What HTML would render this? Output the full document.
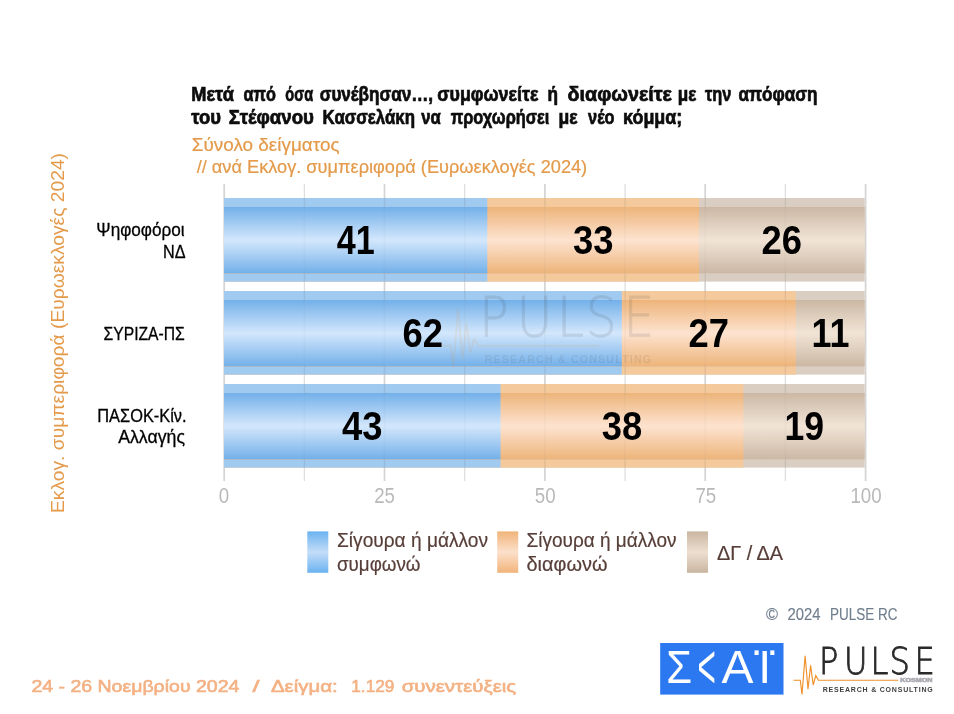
<!DOCTYPE html>
<html lang="el">
<head>
<meta charset="utf-8">
<title>Pulse RC</title>
<style>
html,body{margin:0;padding:0;background:#fff;}
body{width:954px;height:714px;overflow:hidden;}
svg{display:block;}
text{font-family:"Liberation Sans",sans-serif;}
.b{font-weight:bold;}
.pl{font-family:"DejaVu Sans Light","DejaVu Sans","Liberation Sans",sans-serif;font-weight:200;}
.or{fill:#e49a4a;stroke:#e49a4a;stroke-width:0.2px;}
.lg{fill:#573e38;stroke:#573e38;stroke-width:0.2px;}
.ax{fill:#b9b9b9;}
.num{font-weight:bold;font-size:41px;fill:#000;}
.yl{font-size:18.5px;fill:#000;stroke:#000;stroke-width:0.3px;text-anchor:end;}
</style>
</head>
<body>
<svg width="954" height="714" viewBox="0 0 954 714">
<defs>
<linearGradient id="gb" x1="0" y1="0" x2="0" y2="1">
<stop offset="0" stop-color="#73b0e9"/><stop offset="0.5" stop-color="#d3e7fc"/><stop offset="1" stop-color="#73b0e9"/>
</linearGradient>
<linearGradient id="go" x1="0" y1="0" x2="0" y2="1">
<stop offset="0" stop-color="#edb47a"/><stop offset="0.5" stop-color="#fde3d0"/><stop offset="1" stop-color="#edb47a"/>
</linearGradient>
<linearGradient id="gg" x1="0" y1="0" x2="0" y2="1">
<stop offset="0" stop-color="#cbb8a4"/><stop offset="0.5" stop-color="#f1e4d6"/><stop offset="1" stop-color="#cbb8a4"/>
</linearGradient>
<linearGradient id="lb" x1="0" y1="0" x2="0" y2="1">
<stop offset="0" stop-color="#6bb2f1"/><stop offset="0.5" stop-color="#c4ddf8"/><stop offset="1" stop-color="#6bb2f1"/>
</linearGradient>
<linearGradient id="lo" x1="0" y1="0" x2="0" y2="1">
<stop offset="0" stop-color="#f1b47a"/><stop offset="0.5" stop-color="#fce0cb"/><stop offset="1" stop-color="#f1b47a"/>
</linearGradient>
<linearGradient id="lgr" x1="0" y1="0" x2="0" y2="1">
<stop offset="0" stop-color="#c9b5a0"/><stop offset="0.5" stop-color="#eddfd0"/><stop offset="1" stop-color="#c9b5a0"/>
</linearGradient>
</defs>
<rect x="0" y="0" width="954" height="714" fill="#ffffff"/>

<!-- title -->
<text class="b" y="100.8" font-size="19.9" fill="#0d0d0d" stroke="#0d0d0d" stroke-width="0.7"><tspan x="191.2" textLength="42.7" lengthAdjust="spacingAndGlyphs">Μετά</tspan> <tspan x="243.5" textLength="32.3" lengthAdjust="spacingAndGlyphs">από</tspan> <tspan x="285.3" textLength="27.8" lengthAdjust="spacingAndGlyphs">όσα</tspan> <tspan x="319.7" textLength="113.4" lengthAdjust="spacingAndGlyphs">συνέβησαν…,</tspan> <tspan x="437.3" textLength="101.1" lengthAdjust="spacingAndGlyphs">συμφωνείτε</tspan> <tspan x="547.6" textLength="10.5" lengthAdjust="spacingAndGlyphs">ή</tspan> <tspan x="567.6" textLength="104.3" lengthAdjust="spacingAndGlyphs">διαφωνείτε</tspan> <tspan x="677.7" textLength="18.6" lengthAdjust="spacingAndGlyphs">με</tspan> <tspan x="705.1" textLength="26.3" lengthAdjust="spacingAndGlyphs">την</tspan> <tspan x="738.4" textLength="79.1" lengthAdjust="spacingAndGlyphs">απόφαση</tspan></text>
<text class="b" y="124.4" font-size="19.9" fill="#0d0d0d" stroke="#0d0d0d" stroke-width="0.7"><tspan x="191.2" textLength="29.7" lengthAdjust="spacingAndGlyphs">του</tspan> <tspan x="228.8" textLength="85.1" lengthAdjust="spacingAndGlyphs">Στέφανου</tspan> <tspan x="322.6" textLength="92.4" lengthAdjust="spacingAndGlyphs">Κασσελάκη</tspan> <tspan x="421.3" textLength="19.5" lengthAdjust="spacingAndGlyphs">να</tspan> <tspan x="450.7" textLength="98.6" lengthAdjust="spacingAndGlyphs">προχωρήσει</tspan> <tspan x="558.4" textLength="19.1" lengthAdjust="spacingAndGlyphs">με</tspan> <tspan x="588.1" textLength="26.3" lengthAdjust="spacingAndGlyphs">νέο</tspan> <tspan x="623.1" textLength="59.2" lengthAdjust="spacingAndGlyphs">κόμμα;</tspan></text>
<!-- subtitle -->
<text class="or" x="191.8" y="150.7" font-size="18.5" textLength="147.7" lengthAdjust="spacingAndGlyphs">Σύνολο δείγματος</text>
<text class="or" x="196.7" y="172.6" font-size="18.5" textLength="390.5" lengthAdjust="spacingAndGlyphs">// ανά Εκλογ. συμπεριφορά (Ευρωεκλογές 2024)</text>

<!-- y axis title -->
<text class="or" style="stroke-width:0" transform="translate(64.2,513) rotate(-90)" font-size="19.2" textLength="360" lengthAdjust="spacingAndGlyphs">Εκλογ. συμπεριφορά (Ευρωεκλογές 2024)</text>

<!-- gridlines -->
<g stroke="#dedede" stroke-width="1.3">
<line x1="304.4" y1="184" x2="304.4" y2="481"/>
<line x1="464.7" y1="184" x2="464.7" y2="481"/>
<line x1="625.1" y1="184" x2="625.1" y2="481"/>
<line x1="785.4" y1="184" x2="785.4" y2="481"/>
</g>
<g stroke="#d4d4d4" stroke-width="1.7">
<line x1="224.2" y1="184" x2="224.2" y2="481"/>
<line x1="384.5" y1="184" x2="384.5" y2="481"/>
<line x1="544.9" y1="184" x2="544.9" y2="481"/>
<line x1="705.2" y1="184" x2="705.2" y2="481"/>
<line x1="865.6" y1="184" x2="865.6" y2="481"/>
</g>

<!-- bars : outer band then inner gradient, layered right-to-left to avoid seams -->
<rect x="224.0" y="198.0" width="640.7" height="83.6" fill="#d9cec1"/>
<rect x="224.0" y="198.0" width="475.0" height="83.6" fill="#f4c99c"/>
<rect x="224.0" y="198.0" width="263.3" height="83.6" fill="#a1caf0"/>
<rect x="224.0" y="291.0" width="640.7" height="83.6" fill="#d9cec1"/>
<rect x="224.0" y="291.0" width="571.8" height="83.6" fill="#f4c99c"/>
<rect x="224.0" y="291.0" width="397.8" height="83.6" fill="#a1caf0"/>
<rect x="224.0" y="384.0" width="640.7" height="83.6" fill="#d9cec1"/>
<rect x="224.0" y="384.0" width="519.4" height="83.6" fill="#f4c99c"/>
<rect x="224.0" y="384.0" width="276.5" height="83.6" fill="#a1caf0"/>
<g stroke="#000000" stroke-opacity="0.05" stroke-width="1.4">
<line x1="304.4" y1="198" x2="304.4" y2="281.6"/>
<line x1="464.7" y1="198" x2="464.7" y2="281.6"/>
<line x1="625.1" y1="198" x2="625.1" y2="281.6"/>
<line x1="785.4" y1="198" x2="785.4" y2="281.6"/>
<line x1="384.5" y1="198" x2="384.5" y2="281.6"/>
<line x1="544.9" y1="198" x2="544.9" y2="281.6"/>
<line x1="705.2" y1="198" x2="705.2" y2="281.6"/>
<line x1="304.4" y1="291" x2="304.4" y2="374.6"/>
<line x1="464.7" y1="291" x2="464.7" y2="374.6"/>
<line x1="625.1" y1="291" x2="625.1" y2="374.6"/>
<line x1="785.4" y1="291" x2="785.4" y2="374.6"/>
<line x1="384.5" y1="291" x2="384.5" y2="374.6"/>
<line x1="544.9" y1="291" x2="544.9" y2="374.6"/>
<line x1="705.2" y1="291" x2="705.2" y2="374.6"/>
<line x1="304.4" y1="384" x2="304.4" y2="467.6"/>
<line x1="464.7" y1="384" x2="464.7" y2="467.6"/>
<line x1="625.1" y1="384" x2="625.1" y2="467.6"/>
<line x1="785.4" y1="384" x2="785.4" y2="467.6"/>
<line x1="384.5" y1="384" x2="384.5" y2="467.6"/>
<line x1="544.9" y1="384" x2="544.9" y2="467.6"/>
<line x1="705.2" y1="384" x2="705.2" y2="467.6"/>
</g>
<rect x="224.0" y="207.0" width="640.7" height="66.3" fill="url(#gg)"/>
<rect x="224.0" y="207.0" width="475.0" height="66.3" fill="url(#go)"/>
<rect x="224.0" y="207.0" width="263.3" height="66.3" fill="url(#gb)"/>
<rect x="224.0" y="300.0" width="640.7" height="66.3" fill="url(#gg)"/>
<rect x="224.0" y="300.0" width="571.8" height="66.3" fill="url(#go)"/>
<rect x="224.0" y="300.0" width="397.8" height="66.3" fill="url(#gb)"/>
<rect x="224.0" y="393.0" width="640.7" height="66.3" fill="url(#gg)"/>
<rect x="224.0" y="393.0" width="519.4" height="66.3" fill="url(#go)"/>
<rect x="224.0" y="393.0" width="276.5" height="66.3" fill="url(#gb)"/>
<g stroke="#8a8a8a" stroke-opacity="0.06" stroke-width="1.4">
<line x1="304.4" y1="198" x2="304.4" y2="281.6"/>
<line x1="464.7" y1="198" x2="464.7" y2="281.6"/>
<line x1="625.1" y1="198" x2="625.1" y2="281.6"/>
<line x1="785.4" y1="198" x2="785.4" y2="281.6"/>
<line x1="384.5" y1="198" x2="384.5" y2="281.6"/>
<line x1="544.9" y1="198" x2="544.9" y2="281.6"/>
<line x1="705.2" y1="198" x2="705.2" y2="281.6"/>
<line x1="304.4" y1="291" x2="304.4" y2="374.6"/>
<line x1="464.7" y1="291" x2="464.7" y2="374.6"/>
<line x1="625.1" y1="291" x2="625.1" y2="374.6"/>
<line x1="785.4" y1="291" x2="785.4" y2="374.6"/>
<line x1="384.5" y1="291" x2="384.5" y2="374.6"/>
<line x1="544.9" y1="291" x2="544.9" y2="374.6"/>
<line x1="705.2" y1="291" x2="705.2" y2="374.6"/>
<line x1="304.4" y1="384" x2="304.4" y2="467.6"/>
<line x1="464.7" y1="384" x2="464.7" y2="467.6"/>
<line x1="625.1" y1="384" x2="625.1" y2="467.6"/>
<line x1="785.4" y1="384" x2="785.4" y2="467.6"/>
<line x1="384.5" y1="384" x2="384.5" y2="467.6"/>
<line x1="544.9" y1="384" x2="544.9" y2="467.6"/>
<line x1="705.2" y1="384" x2="705.2" y2="467.6"/>
</g>

<!-- watermark -->
<g opacity="0.105" transform="translate(-760.1,-683.4) scale(1.513)">
<path d="M793.4 680.2 L800.3 680.2 L802 694.5 L805.1 655.8 L808 689.3 L810.6 665.2 L813.2 685 L815.8 675.6 L818.4 680.2 L898.3 680.2" fill="none" stroke="#ef8b22" stroke-width="1.2"/>
<text class="pl" transform="translate(0,673.8) scale(0.88,1)" x="930.8 959.1 989.3 1010.8 1039.2" y="0" font-size="36.5" fill="#2b2b2b" stroke="#2b2b2b" stroke-width="0.6">PULSE</text>
<text x="822.7" y="691.4" font-size="7" class="b" fill="#404040" textLength="110" lengthAdjust="spacing">RESEARCH &amp; CONSULTING</text>
</g>

<!-- bar numbers -->
<text class="num" x="336.7" y="254.4" textLength="38" lengthAdjust="spacingAndGlyphs">41</text>
<text class="num" x="572.9" y="254.4" textLength="40.5" lengthAdjust="spacingAndGlyphs">33</text>
<text class="num" x="761.6" y="254.4" textLength="40.5" lengthAdjust="spacingAndGlyphs">26</text>
<text class="num" x="402.6" y="347.4" textLength="40.5" lengthAdjust="spacingAndGlyphs">62</text>
<text class="num" x="688.5" y="347.4" textLength="40.5" lengthAdjust="spacingAndGlyphs">27</text>
<text class="num" x="811.5" y="347.4" textLength="38" lengthAdjust="spacingAndGlyphs">11</text>
<text class="num" x="342.0" y="440.4" textLength="40.5" lengthAdjust="spacingAndGlyphs">43</text>
<text class="num" x="601.8" y="440.4" textLength="40.5" lengthAdjust="spacingAndGlyphs">38</text>
<text class="num" x="784.4" y="440.4" textLength="39.6" lengthAdjust="spacingAndGlyphs">19</text>

<!-- y labels -->
<text class="yl" x="184.6" y="236.2" textLength="88.3" lengthAdjust="spacingAndGlyphs">Ψηφοφόροι</text>
<text class="yl" x="185.5" y="257.6" textLength="22.5" lengthAdjust="spacingAndGlyphs">ΝΔ</text>
<text class="yl" x="184.8" y="339.7" textLength="81.3" lengthAdjust="spacingAndGlyphs">ΣΥΡΙΖΑ-ΠΣ</text>
<text class="yl" x="186.6" y="421.6" textLength="89.3" lengthAdjust="spacingAndGlyphs">ΠΑΣΟΚ-Κίν.</text>
<text class="yl" x="185" y="443.3" textLength="66.8" lengthAdjust="spacingAndGlyphs">Αλλαγής</text>

<!-- x labels -->
<g class="ax" font-size="21.5" text-anchor="middle">
<text x="224" y="503.2" textLength="10.4" lengthAdjust="spacingAndGlyphs">0</text>
<text x="384.6" y="503.2" textLength="20.8" lengthAdjust="spacingAndGlyphs">25</text>
<text x="545.2" y="503.2" textLength="20.8" lengthAdjust="spacingAndGlyphs">50</text>
<text x="705.8" y="503.2" textLength="20.8" lengthAdjust="spacingAndGlyphs">75</text>
<text x="866" y="503.2" textLength="31.2" lengthAdjust="spacingAndGlyphs">100</text>
</g>

<!-- legend -->
<rect x="307.3" y="531.4" width="21" height="41.4" fill="url(#lb)"/>
<rect x="497.2" y="531.4" width="21" height="41.4" fill="url(#lo)"/>
<rect x="687" y="531.4" width="21" height="41.4" fill="url(#lgr)"/>
<g class="lg" font-size="20.3">
<text x="337" y="546.7" textLength="151" lengthAdjust="spacingAndGlyphs">Σίγουρα ή μάλλον</text>
<text x="337" y="570.6" textLength="83.5" lengthAdjust="spacingAndGlyphs">συμφωνώ</text>
<text x="526.5" y="546.7" textLength="150" lengthAdjust="spacingAndGlyphs">Σίγουρα ή μάλλον</text>
<text x="526.5" y="570.6" textLength="81" lengthAdjust="spacingAndGlyphs">διαφωνώ</text>
<text x="717" y="560" textLength="66" lengthAdjust="spacingAndGlyphs">ΔΓ / ΔΑ</text>
</g>

<!-- copyright -->
<g fill="#6f7e8d" stroke="#6f7e8d" stroke-width="0.15" font-size="16.5">
<text x="766" y="619.8" textLength="12" lengthAdjust="spacingAndGlyphs">©</text>
<text x="787.5" y="619.8" textLength="33" lengthAdjust="spacingAndGlyphs">2024</text>
<text x="830" y="619.8" textLength="67.5" lengthAdjust="spacingAndGlyphs">PULSE RC</text>
</g>

<!-- SKAI logo -->
<g>
<title>ΣΚΑΪ</title>
<rect x="660.2" y="643" width="123.3" height="51.6" fill="#2b78f0"/>
<g fill="#ffffff">
<text x="666.2" y="683.3" font-size="46.5" textLength="25.8" lengthAdjust="spacingAndGlyphs">Σ</text>
<text x="697.4" y="688" font-size="63" textLength="18.3" lengthAdjust="spacingAndGlyphs">&lt;</text>
<text x="721.4" y="683.3" font-size="46.5" textLength="32" lengthAdjust="spacingAndGlyphs">Α</text>
<text x="758.2" y="683.3" font-size="46.5">Ι</text>
<text x="750.8" y="655.4" font-size="42">.</text>
<text x="766.6" y="655.4" font-size="42">.</text>
</g>
</g>

<!-- PULSE logo -->
<g>
<path d="M793.4 680.2 L800.3 680.2 L802 694.5 L805.1 655.8 L808 689.3 L810.6 665.2 L813.2 685 L815.8 675.6 L818.4 680.2 L898.3 680.2" fill="none" stroke="#f0902a" stroke-width="1.15"/>
<text x="900.3" y="682.4" font-size="4.7" class="b" fill="#adadb4" stroke="#adadb4" stroke-width="0.55" textLength="32" lengthAdjust="spacingAndGlyphs">KOSMON</text>
<text class="pl" transform="translate(0,673.8) scale(0.88,1)" x="930.8 959.1 989.3 1010.8 1039.2" y="0" font-size="36.5" fill="#2b2b2b" stroke="#2b2b2b" stroke-width="0.9">PULSE</text>
<text x="822.7" y="692" font-size="7" class="b" fill="#404040" textLength="110" lengthAdjust="spacing">RESEARCH &amp; CONSULTING</text>
</g>

<!-- footer -->
<g fill="#f4b183" stroke="#f4b183" stroke-width="0.6" font-size="17">
<text x="31.4" y="692.3" textLength="208" lengthAdjust="spacingAndGlyphs">24 - 26 Νοεμβρίου 2024</text>
<text x="252.5" y="692.3" textLength="7" lengthAdjust="spacingAndGlyphs">/</text>
<text x="270.9" y="692.3" textLength="66.8" lengthAdjust="spacingAndGlyphs">Δείγμα:</text>
<text x="351.3" y="692.3" textLength="43" lengthAdjust="spacingAndGlyphs">1.129</text>
<text x="401.7" y="692.3" textLength="114.5" lengthAdjust="spacingAndGlyphs">συνεντεύξεις</text>
</g>
</svg>
</body>
</html>
